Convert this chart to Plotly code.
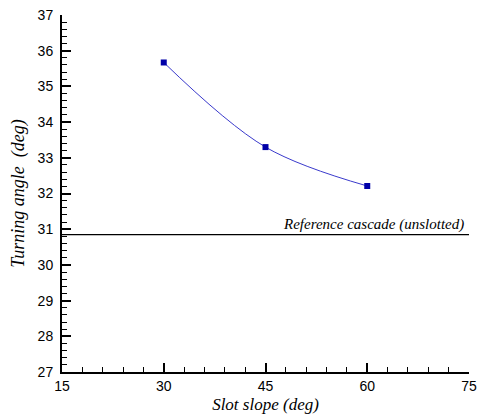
import plotly.graph_objects as go

slot_slope = [30, 45, 60]
turning_angle = [35.67, 33.30, 32.21]
reference_angle = 30.85
x_range = [15, 75]
y_range = [27, 37]
x_ticks = [15, 30, 45, 60, 75]
y_ticks = list(range(27, 38))

fig = go.Figure()
fig.add_trace(go.Scatter(
    x=slot_slope, y=turning_angle, mode="lines+markers",
    line=dict(color="#3a3acc", width=1, shape="spline", smoothing=1.0),
    marker=dict(symbol="square", size=6, color="#0000a8"),
    showlegend=False))
fig.add_trace(go.Scatter(
    x=x_range, y=[reference_angle, reference_angle], mode="lines",
    line=dict(color="black", width=1.3), showlegend=False, cliponaxis=False))

fig.add_annotation(x=74.5, y=reference_angle, xref="x", yref="y",
                   text="<i>Reference cascade (unslotted)</i>", showarrow=False,
                   xanchor="right", yanchor="bottom", yshift=0,
                   font=dict(family="Liberation Serif", size=15, color="black"))

axis_common = dict(showline=True, linecolor="black", linewidth=2, showgrid=False,
                   zeroline=False, ticks="inside", tickcolor="black", tickwidth=2,
                   ticklen=9, tickfont=dict(family="Liberation Sans", size=14, color="black"),
                   mirror=False, automargin=False)

fig.update_xaxes(range=x_range, tickvals=x_ticks, **axis_common,
                 minor=dict(ticks="inside", dtick=3, ticklen=5, tickwidth=1, tickcolor="black", showgrid=False),
                 title=dict(text="<i>Slot slope (deg)</i>", font=dict(family="Liberation Serif", size=17, color="black"), standoff=5))
fig.update_yaxes(range=y_range, tickvals=y_ticks, **axis_common,
                 ticklabelstandoff=4,
                 minor=dict(ticks="inside", dtick=0.2, ticklen=5, tickwidth=1, tickcolor="black", showgrid=False),
                 title=dict(text="<i>Turning angle  (deg)</i>", font=dict(family="Liberation Serif", size=18, color="black"), standoff=8))

fig.update_layout(width=477, height=416, margin=dict(l=62, r=8, t=15, b=44),
                  plot_bgcolor="white", paper_bgcolor="white")
fig.write_html("out.html")
